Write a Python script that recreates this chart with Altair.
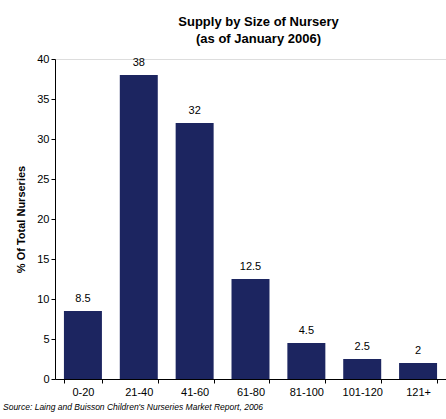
import altair as alt
import pandas as pd

categories = ["0-20", "21-40", "41-60", "61-80", "81-100", "101-120", "121+"]
values = [8.5, 38, 32, 12.5, 4.5, 2.5, 2]
labels = ["8.5", "38", "32", "12.5", "4.5", "2.5", "2"]
y_ticks = [0, 5, 10, 15, 20, 25, 30, 35, 40]
source_text = "Source: Laing and Buisson Children's Nurseries Market Report, 2006"

df = pd.DataFrame({"cat": categories, "val": values, "lab": labels})
FONT = "Liberation Sans"

x = alt.X("cat:N", sort=categories, title=None,
          scale=alt.Scale(paddingInner=0.32, paddingOuter=0.16),
          axis=alt.Axis(labelAngle=0, labelFontSize=11,
                        labelColor="black", labelPadding=3, tickBand="extent",
                        tickSize=4, domainColor="black", tickColor="black",
                        labelFont=FONT))
y = alt.Y("val:Q", title="% Of Total Nurseries",
          scale=alt.Scale(domain=[0, 40], nice=False),
          axis=alt.Axis(values=y_ticks, tickCount=9, grid=False, tickSize=4,
                        labelOverlap=False,
                        labelFontSize=11, labelColor="black", labelFont=FONT,
                        titleFontSize=11, titleFont=FONT, titleFontWeight="bold",
                        titleColor="black", titlePadding=10,
                        domainColor="black", tickColor="black"))

base = alt.Chart(df).encode(x=x, y=y)
bars = base.mark_bar(color="#1C2560")
text = base.mark_text(baseline="bottom", dy=-7, fontSize=11,
                      font=FONT, color="black").encode(text="lab:N")
src = alt.Chart(pd.DataFrame({"t": [source_text]})).mark_text(
    align="left", baseline="middle", fontSize=8.5, fontStyle="italic",
    font=FONT, color="black").encode(
    x=alt.value(-52), y=alt.value(348), text="t:N")

chart = alt.layer(bars, text, src).properties(
    width=391, height=320,
    padding={"left": 55, "top": 59, "right": 0, "bottom": 40},
    autosize=alt.AutoSizeParams(type="none"),
    title=alt.TitleParams(["Supply by Size of Nursery", "(as of January 2006)"],
                          anchor="middle", dx=8, offset=7, fontSize=13,
                          font=FONT, fontWeight="bold", color="black",
                          lineHeight=17),
).configure_view(stroke=None).configure(background="white")

chart.save("out.html", embed_options={"renderer": "svg", "actions": False})
